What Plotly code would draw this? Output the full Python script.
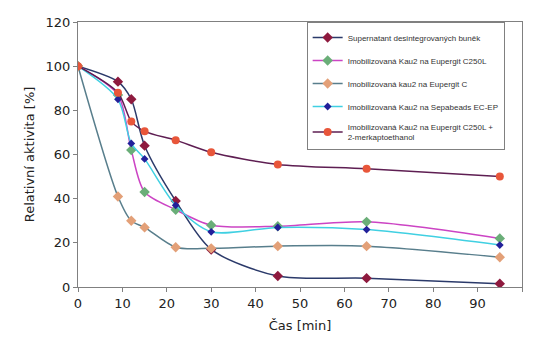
import plotly.graph_objects as go

time_min = [0, 9, 12, 15, 22, 30, 45, 65, 95]
supernatant = [100, 93, 85, 64, 39, 17, 5, 4, 1.5]
eupergit_c250l = [100, 87, 62, 43, 35, 28, 27.5, 29.5, 22]
eupergit_c = [100, 41, 30, 27, 18, 17.5, 18.5, 18.5, 13.5]
sepabeads = [100, 85, 65, 58, 37, 25, 27, 26, 19]
eupergit_c250l_merk = [100, 88, 75, 70.5, 66.5, 61, 55.5, 53.5, 50]

names = [
    "Supernatant desintegrovaných buněk",
    "Imobilizovaná Kau2 na Eupergit C250L",
    "Imobilizovaná kau2 na Eupergit C",
    "Imobilizovaná Kau2 na Sepabeads EC-EP",
    "Imobilizovaná Kau2 na Eupergit C250L +<br>2-merkaptoethanol",
]
series = [supernatant, eupergit_c250l, eupergit_c, sepabeads, eupergit_c250l_merk]
line_colors = ["#2B3A6A", "#CC44C4", "#587E8C", "#40D0E2", "#5E1E52"]
marker_colors = ["#8E1A3E", "#6AAE78", "#E3A078", "#22209A", "#E8563A"]
marker_symbols = ["diamond", "diamond", "diamond", "diamond", "circle"]
marker_sizes = [8, 8, 8, 6, 8]

fig = go.Figure()
for i, (nm, ys) in enumerate(zip(names, series)):
    fig.add_trace(go.Scatter(
        x=time_min, y=ys, name=nm, mode="lines+markers",
        legendgroup="g%d" % i,
        line=dict(color=line_colors[i], width=1.5, shape="spline", smoothing=0.8),
        marker=dict(color=marker_colors[i], symbol=marker_symbols[i], size=marker_sizes[i],
                    line=dict(width=0)),
    ))

axis_common = dict(
    showline=True, linecolor="#808080", linewidth=1, mirror=True,
    ticks="outside", ticklen=4, tickcolor="#808080", showgrid=False, zeroline=False,
    tickfont=dict(family="DejaVu Sans", size=13, color="#222"),
    automargin=False,
)
fig.update_xaxes(range=[0, 100], dtick=10, tick0=0,
                 title=dict(text="Čas [min]", font=dict(family="DejaVu Sans", size=13, color="#222"), standoff=11),
                 **axis_common)
fig.update_yaxes(range=[0, 120], dtick=20, tick0=0,
                 title=dict(text="Relativní aktivita [%]", font=dict(family="DejaVu Sans", size=13, color="#222"), standoff=8),
                 **axis_common)

fig.update_layout(
    width=533, height=338,
    margin=dict(l=78, r=11, t=22, b=51),
    paper_bgcolor="white", plot_bgcolor="white",
    showlegend=True,
    legend=dict(
        x=0.515, y=1.0, xanchor="left", yanchor="top",
        bgcolor="white", bordercolor="#808080", borderwidth=1,
        font=dict(family="Liberation Sans", size=8, color="#333"),
        tracegroupgap=4, itemwidth=30,
    ),
)

fig.write_html("out.html")
